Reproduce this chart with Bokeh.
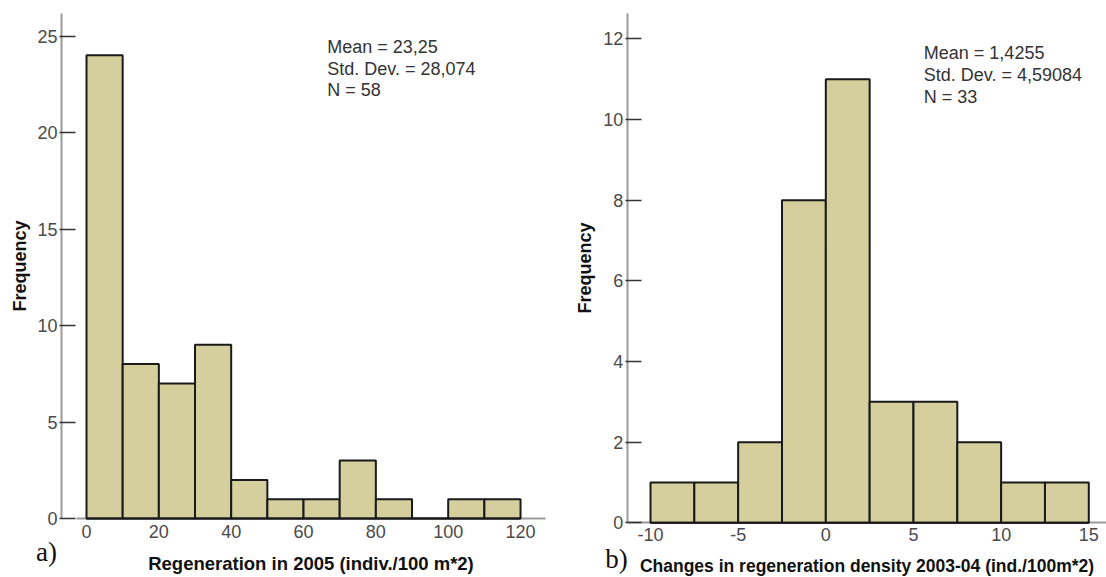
from bokeh.plotting import figure
from bokeh.layouts import row
from bokeh.models import Range1d, FixedTicker, Label, ColumnDataSource
from bokeh.embed import file_html
from bokeh.resources import INLINE

# ---- data ----
a_edges = [0, 10, 20, 30, 40, 50, 60, 70, 80, 90, 100, 110, 120]
a_counts = [24, 8, 7, 9, 2, 1, 1, 3, 1, 0, 1, 1]
a_xticks = [0, 20, 40, 60, 80, 100, 120]
a_xticklabels = ["0", "20", "40", "60", "80", "100", "120"]
a_yticks = [0, 5, 10, 15, 20, 25]
a_stats = ["Mean = 23,25", "Std. Dev. = 28,074", "N = 58"]
a_xlabel = "Regeneration in 2005 (indiv./100 m*2)"

b_edges = [-10, -7.5, -5, -2.5, 0, 2.5, 5, 7.5, 10, 12.5, 15]
b_counts = [1, 1, 2, 8, 11, 3, 3, 2, 1, 1]
b_xticks = [-10, -5, 0, 5, 10, 15]
b_xticklabels = ["-10", "-5", "0", "5", "10", "15"]
b_yticks = [0, 2, 4, 6, 8, 10, 12]
b_stats = ["Mean = 1,4255", "Std. Dev. = 4,59084", "N = 33"]
b_xlabel = "Changes in regeneration density 2003-04 (ind./100m*2)"

FILL = "#d4cf9c"
FONT = "Liberation Sans"


def make(edges, counts, xr, yr, xticks, xticklabels, yticks, xlabel, stats, stat_xy,
         stat_step, tag, tag_xy, width, yaxis_at, ytop, xbounds, xlabel_size,
         xstandoff, xlabel_standoff, ylabel_standoff):
    p = figure(width=width, height=577, output_backend="svg", toolbar_location=None,
               x_range=Range1d(*xr), y_range=Range1d(*yr),
               min_border_left=0, min_border_right=0,
               min_border_top=0, min_border_bottom=0)
    p.outline_line_color = None
    p.xgrid.visible = False
    p.ygrid.visible = False
    left = edges[:-1]
    right = edges[1:]
    src = ColumnDataSource(dict(left=left, right=right, top=counts,
                                bottom=[0] * len(counts)))
    p.quad(left="left", right="right", top="top", bottom="bottom", source=src,
           fill_color=FILL, line_color="#1a1a1a", line_width=2)
    # bottom edges of all bins (visible where a bin is empty)
    p.segment(x0="left", x1="right", y0="bottom", y1="bottom", source=src,
              line_color="#1a1a1a", line_width=2)

    for ax in (p.xaxis[0], p.yaxis[0]):
        ax.axis_line_color = "#9a9a9a"
        ax.axis_line_width = 2
        ax.major_label_text_font = FONT
        ax.major_label_text_font_size = "18px"
        ax.major_label_text_color = "#4a4a4a"
        ax.axis_label_text_font = FONT
        ax.axis_label_text_font_style = "bold"
        ax.axis_label_text_color = "#111111"
        ax.minor_tick_line_color = None
        ax.level = "underlay"

    xa = p.xaxis[0]
    xa.fixed_location = 0
    xa.bounds = xbounds
    xa.ticker = FixedTicker(ticks=xticks)
    xa.major_label_overrides = {t: s for t, s in zip(xticks, xticklabels)}
    xa.major_tick_line_color = None
    xa.major_label_standoff = xstandoff
    xa.axis_label = xlabel
    xa.axis_label_text_font_size = xlabel_size
    xa.axis_label_standoff = xlabel_standoff

    ya = p.yaxis[0]
    ya.fixed_location = yaxis_at
    ya.bounds = (0, ytop)
    ya.ticker = FixedTicker(ticks=yticks)
    ya.major_tick_in = 14
    ya.major_tick_out = 2
    ya.major_tick_line_color = "#333333"
    ya.major_tick_line_width = 1.5
    ya.major_label_standoff = 2
    ya.axis_label = "Frequency"
    ya.axis_label_text_font_size = "18px"
    ya.axis_label_standoff = ylabel_standoff

    for i, s in enumerate(stats):
        p.add_layout(Label(x=stat_xy[0], y=stat_xy[1] - i * stat_step, text=s,
                           text_font=FONT, text_font_size="18px",
                           text_color="#333333", text_align="left",
                           text_baseline="middle"))
    p.add_layout(Label(x=tag_xy[0], y=tag_xy[1], text=tag,
                       text_font="Liberation Serif", text_font_size="27px",
                       text_color="#111111", text_align="center",
                       text_baseline="middle"))
    return p


p1 = make(a_edges, a_counts, (-23.78, 131.05), (-3.057, 26.84), a_xticks, a_xticklabels,
          a_yticks, a_xlabel, a_stats, (66.55, 24.42), 1.12, "a)", (-11.06, -1.76),
          560, -6.9, 26.17, (-2.8, 126.9), "18.5px", 0, 12, 4)
p2 = make(b_edges, b_counts, (-15.134, 16.01), (-1.356, 12.951), b_xticks, b_xticklabels,
          b_yticks, b_xlabel, b_stats, (5.59, 11.65), 0.55, "b)", (-11.94, -0.885),
          546, -11.33, 12.62, (-11.33, 16.01), "17.5px", -1, 12, 5)

layout = row(p1, p2, spacing=0)
open("out.html", "w").write(file_html(layout, INLINE))
